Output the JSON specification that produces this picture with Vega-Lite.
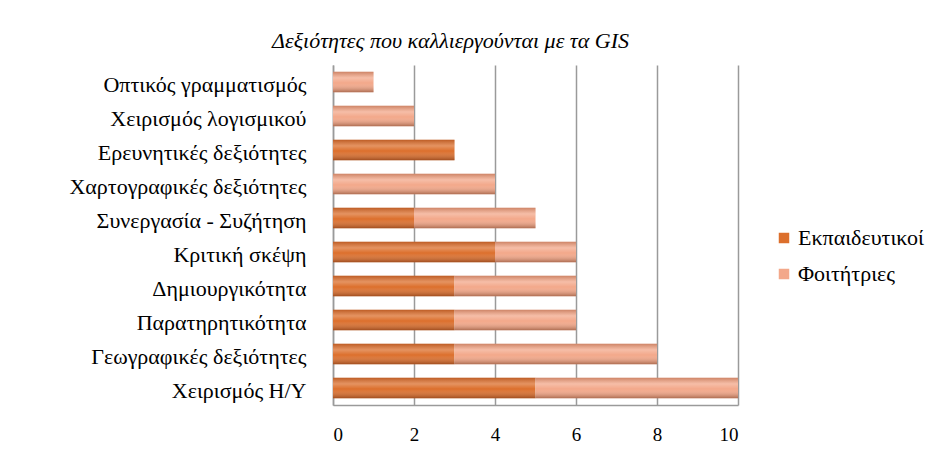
{
  "$schema": "https://vega.github.io/schema/vega-lite/v6.json",
  "width": 405,
  "height": 340,
  "autosize": {"type": "none"},
  "padding": {"left": 333, "top": 65, "right": 214, "bottom": 45},
  "background": "white",
  "title": {
    "text": "Δεξιότητες που καλλιεργούνται με τα GIS",
    "font": "Liberation Serif",
    "fontStyle": "italic",
    "fontWeight": "normal",
    "fontSize": 22,
    "color": "#000000",
    "anchor": "middle",
    "dx": -85,
    "offset": 12
  },
  "data": {
    "values": [
      {"skill": "Οπτικός γραμματισμός", "series": "Εκπαιδευτικοί", "value": 0},
      {"skill": "Οπτικός γραμματισμός", "series": "Φοιτήτριες", "value": 1},
      {"skill": "Χειρισμός λογισμικού", "series": "Εκπαιδευτικοί", "value": 0},
      {"skill": "Χειρισμός λογισμικού", "series": "Φοιτήτριες", "value": 2},
      {"skill": "Ερευνητικές δεξιότητες", "series": "Εκπαιδευτικοί", "value": 3},
      {"skill": "Ερευνητικές δεξιότητες", "series": "Φοιτήτριες", "value": 0},
      {"skill": "Χαρτογραφικές δεξιότητες", "series": "Εκπαιδευτικοί", "value": 0},
      {"skill": "Χαρτογραφικές δεξιότητες", "series": "Φοιτήτριες", "value": 4},
      {"skill": "Συνεργασία - Συζήτηση", "series": "Εκπαιδευτικοί", "value": 2},
      {"skill": "Συνεργασία - Συζήτηση", "series": "Φοιτήτριες", "value": 3},
      {"skill": "Κριτική σκέψη", "series": "Εκπαιδευτικοί", "value": 4},
      {"skill": "Κριτική σκέψη", "series": "Φοιτήτριες", "value": 2},
      {"skill": "Δημιουργικότητα", "series": "Εκπαιδευτικοί", "value": 3},
      {"skill": "Δημιουργικότητα", "series": "Φοιτήτριες", "value": 3},
      {"skill": "Παρατηρητικότητα", "series": "Εκπαιδευτικοί", "value": 3},
      {"skill": "Παρατηρητικότητα", "series": "Φοιτήτριες", "value": 3},
      {"skill": "Γεωγραφικές δεξιότητες", "series": "Εκπαιδευτικοί", "value": 3},
      {"skill": "Γεωγραφικές δεξιότητες", "series": "Φοιτήτριες", "value": 5},
      {"skill": "Χειρισμός Η/Υ", "series": "Εκπαιδευτικοί", "value": 5},
      {"skill": "Χειρισμός Η/Υ", "series": "Φοιτήτριες", "value": 5}
    ]
  },
  "encoding": {
    "y": {
      "field": "skill",
      "type": "nominal",
      "sort": null,
      "scale": {"paddingInner": 0.4, "paddingOuter": 0.2},
      "axis": {
        "title": null,
        "ticks": false,
        "labelPadding": 27,
        "labelFont": "Liberation Serif",
        "labelFontSize": 22,
        "labelColor": "#000000",
        "labelLimit": 330,
        "labelBaseline": "middle",
        "labelOffset": 3,
        "domainColor": "#9a9a9a",
        "domainWidth": 1.5
      }
    },
    "x": {
      "field": "value",
      "type": "quantitative",
      "stack": "zero",
      "scale": {"domain": [0, 10], "nice": false},
      "axis": {
        "title": null,
        "values": [0, 2, 4, 6, 8, 10],
        "ticks": false,
        "labelPadding": 20,
        "labelFont": "Liberation Serif",
        "labelFontSize": 19,
        "labelColor": "#000000",
        "gridColor": "#9a9a9a",
        "gridWidth": 1.5,
        "domainColor": "#9a9a9a",
        "domainWidth": 1.5
      }
    }
  },
  "layer": [
    {
      "mark": {"type": "bar", "stroke": null},
      "encoding": {
        "color": {
          "field": "series",
          "type": "nominal",
          "scale": {
            "domain": ["Εκπαιδευτικοί", "Φοιτήτριες"],
            "range": ["#dc6f2c", "#f3a88a"]
          },
          "legend": {
            "title": null,
            "orient": "none",
            "legendX": 440,
            "legendY": 162,
            "symbolType": "square",
            "symbolSize": 110,
            "symbolStrokeWidth": 0,
            "labelFont": "Liberation Serif",
            "labelFontSize": 22,
            "labelColor": "#000000",
            "rowPadding": 14,
            "labelOffset": 3
          }
        }
      }
    },
    {
      "mark": {
        "type": "bar",
        "fill": {
          "gradient": "linear",
          "x1": 0, "y1": 0, "x2": 0, "y2": 1,
          "stops": [
            {"offset": 0, "color": "rgba(120,50,20,0.3)"},
            {"offset": 0.3, "color": "rgba(255,255,255,0.25)"},
            {"offset": 0.55, "color": "rgba(255,255,255,0.0)"},
            {"offset": 1, "color": "rgba(90,35,10,0.45)"}
          ]
        }
      },
      "encoding": {
        "detail": {"field": "series", "type": "nominal"}
      }
    }
  ],
  "config": {
    "view": {"stroke": null}
  }
}
